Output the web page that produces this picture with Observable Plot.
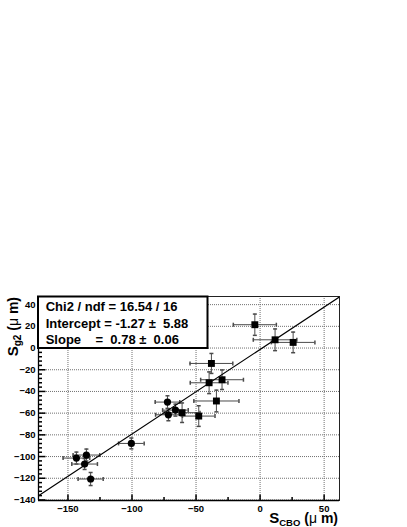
<!DOCTYPE html>
<html>
<head>
<meta charset="utf-8">
<script src="https://cdn.jsdelivr.net/npm/d3@7"></script>
<script src="https://cdn.jsdelivr.net/npm/@observablehq/plot@0.6"></script>
<style>
  body { margin: 0; background: #fff; }
  #wrap { position: relative; width: 407px; height: 527px; }
  #wrap svg { position: absolute; left: 0; top: 0; }
</style>
</head>
<body>
<div id="wrap"></div>
<script>
// ---- data ----
const circleX  = [-143.4, -135.6, -137.0, -132.3, -100.5, -72.3, -71.6, -66.1];
const circleY  = [-101.4,  -98.6, -106.9, -120.7,  -87.9, -49.8, -61.5, -57.2];
const circleEX = [10.4, 10.4, 10.0, 9.8, 10.0, 9.6, 10.0, 10.0];
const circleEY = [5.5, 5.5, 5.0, 6.0, 5.0, 5.8, 5.5, 5.5];

const squareX  = [-60.9, -47.9, -34.1, -38.0, -39.8, -29.7, -4.1, 11.7, 25.8];
const squareY  = [-59.6, -62.7, -48.8, -14.2, -32.0, -29.2, 21.5,  7.6,  5.2];
const squareEX = [14.0, 12.7, 17.6, 16.7, 14.7, 16.7, 16.8, 17.0, 17.0];
const squareEY = [9.0, 9.5, 10.0, 9.2, 10.0, 9.0, 9.8, 10.0, 9.5];

const fitSlope = 0.78, fitIntercept = -1.27;
const xTicks = [-150, -100, -50, 0, 50];
const xMinor = [-125, -75, -25, 25];
const yTicks = [-140, -120, -100, -80, -60, -40, -20, 0, 20, 40];
const yMinor = d3.range(-136, 47, 4).filter(v => v % 20 !== 0);
const xDomain = [-173, 62];
const yDomain = [-140.5, 47.5];

const statLines = [
  "Chi2 / ndf = 16.54 / 16",
  "Intercept = -1.27 \u00b1  5.88",
  "Slope    =  0.78 \u00b1  0.06"
];

// ---- build ----
const circles = circleX.map((x, i) => ({x, y: circleY[i], ex: circleEX[i], ey: circleEY[i]}));
const squares = squareX.map((x, i) => ({x, y: squareY[i], ex: squareEX[i], ey: squareEY[i]}));
const pts = circles.concat(squares);
const fit = xDomain.map(x => ({x, y: fitSlope * x + fitIntercept}));

const vLine = (a, b) => ({draw(ctx) { ctx.moveTo(0, a); ctx.lineTo(0, b); }});
const hLine = (a, b) => ({draw(ctx) { ctx.moveTo(a, 0); ctx.lineTo(b, 0); }});
const errC = "#4a4a4a";

const chart = Plot.plot({
  width: 407, height: 527,
  marginTop: 296, marginLeft: 38, marginRight: 68, marginBottom: 27,
  style: {fontFamily: "'Liberation Sans', Arial, sans-serif", fontSize: "9.5px", fontWeight: "bold", background: "white", color: "black"},
  x: {domain: xDomain},
  y: {domain: yDomain},
  marks: [
    Plot.gridX(xTicks, {stroke: "#707070", strokeOpacity: 1, strokeDasharray: "1,1"}),
    Plot.gridY(yTicks, {stroke: "#707070", strokeOpacity: 1, strokeDasharray: "1,1"}),
    Plot.frame({stroke: "#222", strokeWidth: 1}),
    Plot.ruleY(pts, {y: "y", x1: d => d.x - d.ex, x2: d => d.x + d.ex, stroke: errC, strokeWidth: 1}),
    Plot.ruleX(pts, {x: "x", y1: d => d.y - d.ey, y2: d => d.y + d.ey, stroke: errC, strokeWidth: 1}),
    Plot.dot(pts, {x: d => d.x - d.ex, y: "y", symbol: vLine(-2, 2), stroke: errC, fill: "none"}),
    Plot.dot(pts, {x: d => d.x + d.ex, y: "y", symbol: vLine(-2, 2), stroke: errC, fill: "none"}),
    Plot.dot(pts, {x: "x", y: d => d.y - d.ey, symbol: hLine(-2, 2), stroke: errC, fill: "none"}),
    Plot.dot(pts, {x: "x", y: d => d.y + d.ey, symbol: hLine(-2, 2), stroke: errC, fill: "none"}),
    Plot.line(fit, {x: "x", y: "y", stroke: "black", strokeWidth: 1.2, clip: true}),
    Plot.dot(circles, {x: "x", y: "y", symbol: "circle", r: 3.6, fill: "black", stroke: "none"}),
    Plot.dot(squares, {x: "x", y: "y", symbol: "square", r: 3.9, fill: "black", stroke: "none"}),
    // inward ticks
    Plot.dot(yTicks, {x: xDomain[0], y: d => d, symbol: hLine(0, 7), stroke: "black", fill: "none"}),
    Plot.dot(yMinor, {x: xDomain[0], y: d => d, symbol: hLine(0, 3.5), stroke: "black", fill: "none"}),
    Plot.dot(xTicks, {x: d => d, y: yDomain[0], symbol: vLine(0, -6), stroke: "black", fill: "none"}),
    Plot.dot(xMinor, {x: d => d, y: yDomain[0], symbol: vLine(0, -3.5), stroke: "black", fill: "none"}),
    Plot.ruleX([xDomain[0]], {stroke: "black", strokeWidth: 1.3}),
    Plot.ruleY([yDomain[0]], {stroke: "black", strokeWidth: 1.3}),
    Plot.axisY(yTicks, {tickSize: 0, tickPadding: 3, label: null}),
    Plot.axisX(xTicks, {tickSize: 0, tickPadding: 5, label: null})
  ]
});
document.getElementById("wrap").appendChild(chart);

// ---- overlay: stats box and axis titles ----
const ov = d3.select("#wrap").append("svg")
  .attr("width", 407).attr("height", 527)
  .style("font-family", "'Liberation Sans', Arial, sans-serif")
  .style("font-weight", "bold");

ov.append("rect").attr("x", 38).attr("y", 296.5).attr("width", 169.5).attr("height", 51.5)
  .attr("fill", "white").attr("stroke", "black").attr("stroke-width", 2);

const lineY = [310.5, 327.5, 344.3];
statLines.forEach((s, i) => {
  ov.append("text").attr("x", 45.7).attr("y", lineY[i]).attr("font-size", 13)
    .attr("fill", "black").attr("xml:space", "preserve").style("white-space", "pre").text(s);
});

// y title
const yt = ov.append("text").attr("transform", "translate(18,297) rotate(-90)")
  .attr("text-anchor", "end").attr("font-size", 14).attr("fill", "black");
yt.append("tspan").attr("font-size", 15).text("S");
yt.append("tspan").attr("font-size", 10).attr("dy", 3).text("g2");
yt.append("tspan").attr("dy", -3).text(" (");
yt.append("tspan").attr("font-weight", "normal").text("\u03bc");
yt.append("tspan").text(" m)");

// x title
const xt = ov.append("text").attr("x", 338).attr("y", 523)
  .attr("text-anchor", "end").attr("font-size", 14).attr("fill", "black");
xt.append("tspan").attr("font-size", 15).text("S");
xt.append("tspan").attr("font-size", 9.5).attr("dy", 3).text("CBO");
xt.append("tspan").attr("dy", -3).text(" (");
xt.append("tspan").attr("font-weight", "normal").text("\u03bc");
xt.append("tspan").text(" m)");
</script>
</body>
</html>
